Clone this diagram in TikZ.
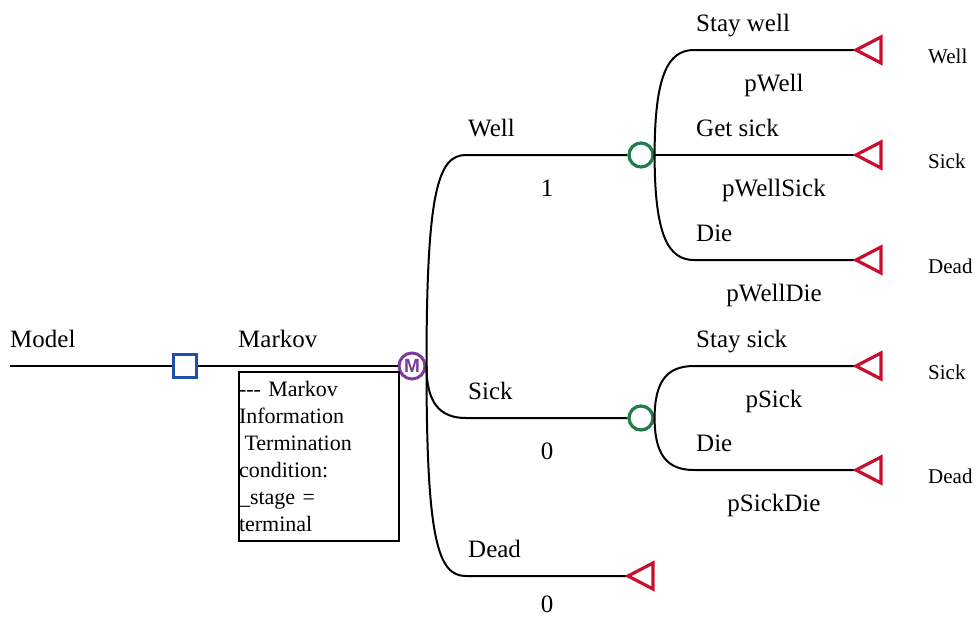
\documentclass[tikz,border=0pt]{standalone}
\usepackage{fontspec}
\setmainfont{Liberation Serif}
\newfontfamily\msans{Liberation Sans}
\definecolor{decblue}{HTML}{1F4FA8}
\definecolor{chgreen}{HTML}{1E7D4A}
\definecolor{termred}{HTML}{C8102E}
\definecolor{mkpurple}{HTML}{7D3C98}
\begin{document}
\begin{tikzpicture}[x=1pt,y=-1pt,
  ln/.style={line width=2pt, black},
  lbl/.style={font=\fontsize{25}{30}\selectfont, inner sep=0pt, anchor=base west},
  prob/.style={font=\fontsize{25}{30}\selectfont, inner sep=0pt, anchor=base},
  endl/.style={font=\fontsize{21}{25}\selectfont, inner sep=0pt, anchor=base west},
  dec/.style={draw=decblue, line width=3.2pt, minimum size=23pt, inner sep=0pt, fill=white},
  chance/.style={circle, draw=chgreen, line width=3.2pt, minimum size=24pt, inner sep=0pt, fill=white},
  mk/.style={circle, draw=mkpurple, line width=3pt, minimum size=26pt, inner sep=0pt, fill=white, text=mkpurple, font=\msans\bfseries\fontsize{19}{19}\selectfont},
  term/.style={draw=termred, line width=3.2pt, line join=miter},
  infobox/.style={draw, line width=2pt, anchor=north west, minimum width=160pt, minimum height=169pt, inner sep=0pt, text width=160pt, align=left, font=\fontsize{22}{27}\selectfont},
]
\useasboundingbox (0,0) rectangle (976,616);

% nodes
\node[dec] (d) at (185,366) {};
\node[mk] (m) at (412,366) {M};
\node[chance] (cw) at (641,155) {};
\node[chance] (cs) at (641,418) {};
\node[infobox] (info) at (238,371) {-{}-{}- Markov\\Information\\\hspace*{0.25em}Termination\\condition:\\\_stage =\\terminal};

% coordinates
\coordinate (ms) at (10,366);
\coordinate (wl) at (466,155);
\coordinate (sl) at (466,418);
\coordinate (dl) at (466,576);
\coordinate (td) at (628,576);
\coordinate (sw1) at (694,50);
\coordinate (sw3) at (694,260);
\coordinate (ss1) at (694,366);
\coordinate (ss2) at (694,470);
\coordinate (tw1) at (856,50);
\coordinate (tw2) at (856,155);
\coordinate (tw3) at (856,260);
\coordinate (ts1) at (856,366);
\coordinate (ts2) at (856,470);

% connectors
\draw[ln] (ms) -- (d.west);
\draw[ln] (d.east) -- (m.west);
\draw[ln] (m.east) .. controls +(0,-175) and +(-28,0) .. (wl) -- (cw.west);
\draw[ln] (m.east) .. controls +(0,36) and +(-27,0) .. (sl) -- (cs.west);
\draw[ln] (m.east) .. controls +(0,175) and +(-28,0) .. (dl) -- (td);
\draw[ln] (cw.east) .. controls +(0,-80) and +(-26,0) .. (sw1) -- (tw1);
\draw[ln] (cw.east) -- (tw2);
\draw[ln] (cw.east) .. controls +(0,80) and +(-26,0) .. (sw3) -- (tw3);
\draw[ln] (cs.east) .. controls +(0,-38) and +(-26,0) .. (ss1) -- (ts1);
\draw[ln] (cs.east) .. controls +(0,38) and +(-26,0) .. (ss2) -- (ts2);

% terminal triangles
\foreach \t in {tw1,tw2,tw3,ts1,ts2,td}{
  \draw[term] (\t) -- ++(25,-13) -- ++(0,26) -- cycle;
}

% labels
\node[lbl] (lmodel) at (10,347) {Model};
\node[lbl] (lmarkov) at (238,347) {Markov};
\node[lbl] (lwell) at (468,136) {Well};
\node[prob] (pw) at (547,196) {1};
\node[lbl] (lsick) at (468,399) {Sick};
\node[prob] (ps) at (547,459) {0};
\node[lbl] (ldead) at (468,557) {Dead};
\node[prob] (pd) at (547,612) {0};

\node[lbl] (lsw) at (696,31) {Stay well};
\node[prob] (pws) at (774,91) {pWell};
\node[lbl] (lgs) at (696,136) {Get sick};
\node[prob] (pwsk) at (774,196) {pWellSick};
\node[lbl] (ldw) at (696,241) {Die};
\node[prob] (pwd) at (774,301) {pWellDie};
\node[lbl] (lss) at (696,347) {Stay sick};
\node[prob] (pss) at (774,407) {pSick};
\node[lbl] (lds) at (696,451) {Die};
\node[prob] (psd) at (774,511) {pSickDie};

\node[endl] (e1) at (928,63) {Well};
\node[endl] (e2) at (928,168) {Sick};
\node[endl] (e3) at (928,273) {Dead};
\node[endl] (e4) at (928,379) {Sick};
\node[endl] (e5) at (928,483) {Dead};
\end{tikzpicture}
\end{document}
